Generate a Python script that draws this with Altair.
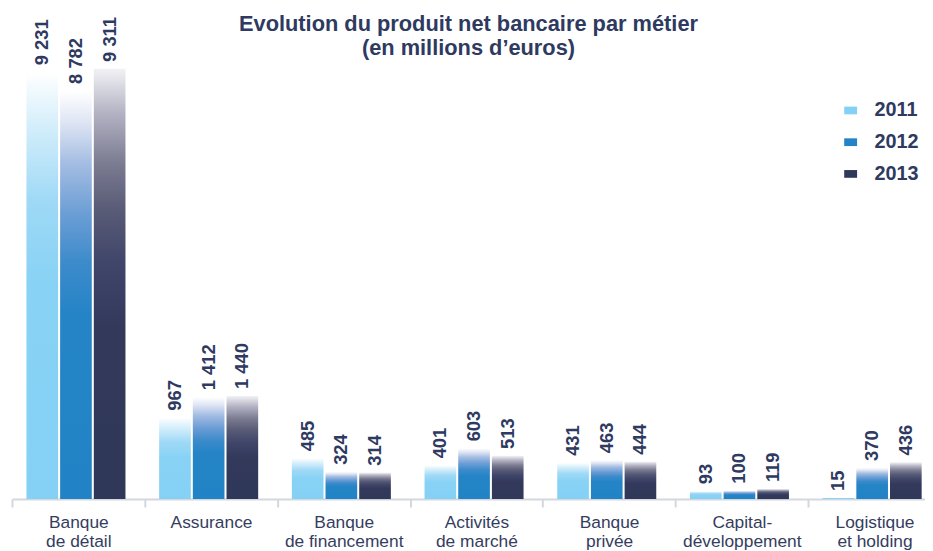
import altair as alt
import pandas as pd

categories = ["Banque\nde détail", "Assurance", "Banque\nde financement",
              "Activités\nde marché", "Banque\nprivée", "Capital-\ndéveloppement",
              "Logistique\net holding"]
years = ["2011", "2012", "2013"]
v2011 = [9231, 967, 485, 401, 431, 93, 15]
v2012 = [8782, 1412, 324, 603, 463, 100, 370]
v2013 = [9311, 1440, 314, 513, 444, 119, 436]

rows = []
for y, vals in zip(years, [v2011, v2012, v2013]):
    for c, v in zip(categories, vals):
        rows.append({"cat": c, "year": y, "value": v,
                     "label": f"{v:,}".replace(",", " ")})
df = pd.DataFrame(rows)

NAVY = "#2e3a5f"
FONT = "Liberation Sans"

grad_stops = {
    "2011": [(0, "#ffffff"), (0.12, "#d6effb"), (0.3, "#9fd9f6"), (0.5, "#87d2f5"), (1, "#85d1f5")],
    "2012": [(0, "#ffffff"), (0.08, "#dde4f3"), (0.18, "#a3bce2"), (0.3, "#6c9ed5"),
             (0.42, "#3d8bcb"), (0.55, "#2484c6"), (1, "#2183c5")],
    "2013": [(0, "#f2f2f5"), (0.1, "#b5b4c5"), (0.22, "#7b7b91"), (0.33, "#585b76"),
             (0.45, "#40466a"), (0.6, "#33395b"), (1, "#2f3858")],
}
legend_colors = ["#85d1f5", "#2383c6", "#2f3858"]

H = 493
x_enc = alt.X("cat:N", sort=categories, title=None,
              scale=alt.Scale(range=[0, 937], paddingInner=0, paddingOuter=0),
              axis=alt.Axis(labelExpr="split(datum.label, '\\n')", labelAngle=0,
                            labelFontSize=17.5, labelColor="#353d5e", labelFont=FONT,
                            labelLineHeight=19, labelPadding=7, tickBand="extent",
                            domainColor="#d3d8e0", domainWidth=2, tickColor="#d3d8e0",
                            tickWidth=2, tickSize=8, labelBaseline="top"))
xo_enc = alt.XOffset("year:N", sort=years,
                     scale=alt.Scale(domain=years, paddingInner=0.06, paddingOuter=0.5, align=0.43))
y_scale = alt.Scale(domain=[0, 1000, 1440, 9311], range=[H, H - 85, H - 104, H - 434],
                    nice=False, zero=False)
y_enc = alt.Y("value:Q", scale=y_scale, axis=None, stack=None)

base = alt.Chart(df)
layers = []
for yr in years:
    grad = alt.LinearGradient(
        gradient="linear", x1=0, x2=0, y1=0, y2=1,
        stops=[alt.GradientStop(offset=o, color=c) for o, c in grad_stops[yr]])
    layers.append(
        base.transform_filter(alt.datum.year == yr)
        .mark_bar(color=grad)
        .encode(x=x_enc, xOffset=xo_enc, y=y_enc, y2=alt.datum(0))
    )

labels = base.mark_text(angle=270, align="left", baseline="middle", dx=7,
                        fontSize=18.5, fontWeight="bold", color=NAVY, font=FONT).encode(
    x=x_enc, xOffset=xo_enc, y=y_enc, text="label:N")

legend_layer = base.mark_point(filled=True, opacity=0).encode(
    x=x_enc, xOffset=xo_enc, y=y_enc,
    color=alt.Color("year:N", sort=years,
                    scale=alt.Scale(domain=years, range=legend_colors),
                    legend=alt.Legend(title=None, orient="none", legendX=836, legendY=91,
                                      symbolType="M-1,-0.6H1V0.6H-1Z", symbolSize=169,
                                      symbolOpacity=1, symbolStrokeWidth=0,
                                      labelFontSize=20, labelFontWeight="bold",
                                      labelColor=NAVY, labelFont=FONT, labelOffset=14,
                                      rowPadding=12, padding=0)))

chart = alt.layer(*layers, labels, legend_layer).properties(
    width=921, height=H,
    padding={"left": 4, "top": 0, "right": 0, "bottom": 50},
    autosize=alt.AutoSizeParams(type="none"),
    title=alt.TitleParams(text=["Evolution du produit net bancaire par métier",
                                "(en millions d’euros)"],
                          fontSize=22, fontWeight="bold", color=NAVY, font=FONT,
                          anchor="middle", lineHeight=24, offset=-72, dx=0,
                          baseline="bottom"),
).configure_view(stroke=None)

chart.save("out.html", embed_options={"renderer": "svg", "actions": False})
